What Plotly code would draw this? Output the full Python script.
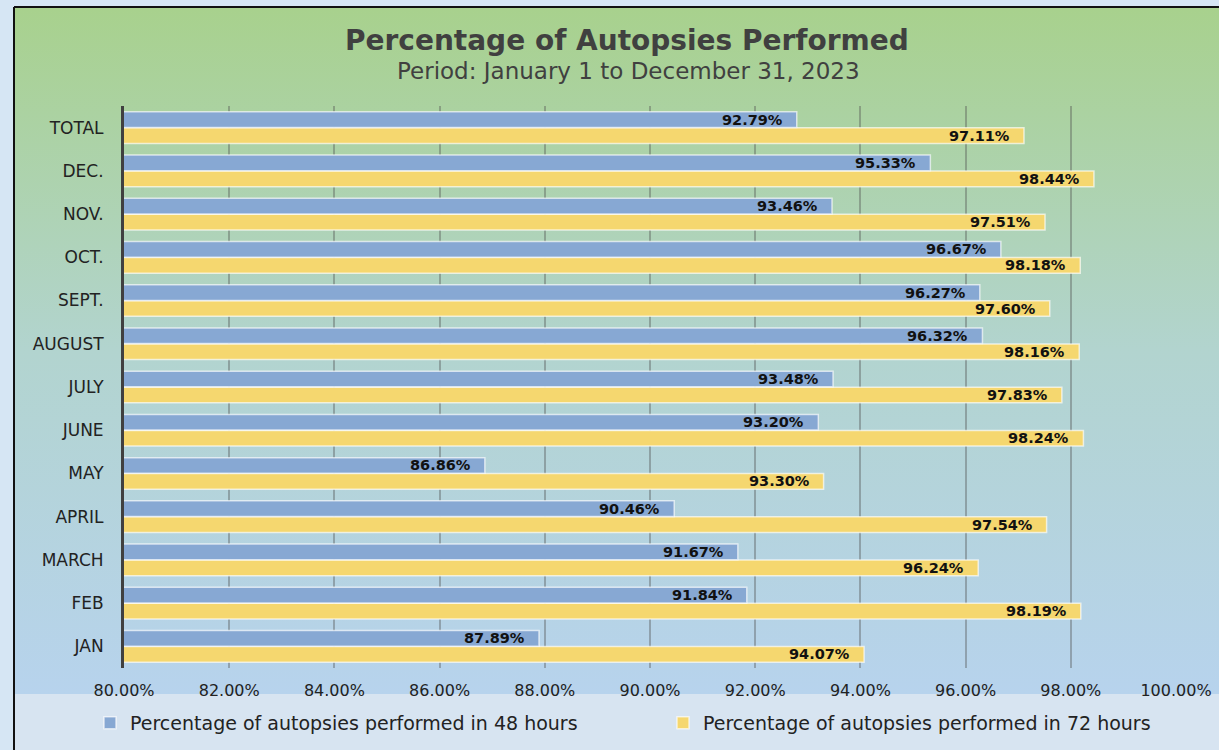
import base64
import plotly.graph_objects as go

categories = ["JAN", "FEB", "MARCH", "APRIL", "MAY", "JUNE", "JULY", "AUGUST",
              "SEPT.", "OCT.", "NOV.", "DEC.", "TOTAL"]
pct_48h = [87.89, 91.84, 91.67, 90.46, 86.86, 93.20, 93.48, 96.32,
           96.27, 96.67, 93.46, 95.33, 92.79]
pct_72h = [94.07, 98.19, 96.24, 97.54, 93.30, 98.24, 97.83, 98.16,
           97.60, 98.18, 97.51, 98.44, 97.11]
x_ticks = [80, 82, 84, 86, 88, 90, 92, 94, 96, 98, 100]

name_48 = "Percentage of autopsies performed in 48 hours"
name_72 = "Percentage of autopsies performed in 72 hours"
title = "Percentage of Autopsies Performed"
subtitle = "Period: January 1 to December 31, 2023"

W, H = 1219, 750
L, R, T, B = 124, 43, 106, 82
PW, PH = W - L - R, H - T - B

BLUE = "#87a8d3"
YELLOW = "#f5d76f"
FONT = "DejaVu Sans"

svg = f"""<svg xmlns="http://www.w3.org/2000/svg" width="{W}" height="{H}" viewBox="0 0 {W} {H}">
<defs><linearGradient id="g" x1="0" y1="0" x2="0" y2="1">
<stop offset="0" stop-color="#a8d18d"/>
<stop offset="0.5" stop-color="#b2d4cf"/>
<stop offset="1" stop-color="#b7d3ed"/>
</linearGradient></defs>
<rect x="0" y="0" width="{W}" height="{H}" fill="#d6e6f4"/>
<rect x="15" y="8" width="{W-15}" height="686" fill="url(#g)"/>
<rect x="15" y="694" width="{W-15}" height="{H-694}" fill="#d7e4f1"/>
<line x1="14" y1="7" x2="14" y2="{H}" stroke="#111" stroke-width="2"/>
<line x1="14" y1="7" x2="{W}" y2="7" stroke="#111" stroke-width="2"/>
</svg>"""
bg_src = "data:image/svg+xml;base64," + base64.b64encode(svg.encode()).decode()

fig = go.Figure()
fig.add_trace(go.Bar(
    y=categories, x=pct_72h, orientation="h", name=name_72,
    marker=dict(color=YELLOW, line=dict(color="rgba(255,255,255,0.65)", width=1.5)),
    legend="legend2",
))
fig.add_trace(go.Bar(
    y=categories, x=pct_48h, orientation="h", name=name_48,
    marker=dict(color=BLUE, line=dict(color="rgba(255,255,255,0.65)", width=1.5)),
    legend="legend",
))

label_font = dict(family=FONT, size=14.5, color="#111", weight="bold")
annotations = []
for c, v in zip(categories, pct_48h):
    annotations.append(dict(x=v, y=c, xref="x", yref="y", text=f"{v:.2f}%",
                            showarrow=False, xanchor="right", yanchor="middle",
                            xshift=-12, yshift=8, font=label_font))
for c, v in zip(categories, pct_72h):
    annotations.append(dict(x=v, y=c, xref="x", yref="y", text=f"{v:.2f}%",
                            showarrow=False, xanchor="right", yanchor="middle",
                            xshift=-12, yshift=-8, font=label_font))

annotations.append(dict(text=title, xref="paper", yref="paper",
                        x=(627 - L) / PW, y=1 + (T - 40) / PH, showarrow=False,
                        xanchor="center", yanchor="middle",
                        font=dict(family=FONT, size=28, color="#404040", weight="bold")))
annotations.append(dict(text=subtitle, xref="paper", yref="paper",
                        x=(628 - L) / PW, y=1 + (T - 71) / PH, showarrow=False,
                        xanchor="center", yanchor="middle",
                        font=dict(family=FONT, size=23, color="#404040")))

legend_common = dict(orientation="h", xref="container", yref="container",
                     y=1 - 723 / H, xanchor="left", yanchor="middle",
                     font=dict(family=FONT, size=19, color="#222"),
                     bgcolor="rgba(0,0,0,0)")

fig.update_layout(
    width=W, height=H,
    margin=dict(l=L, r=R, t=T, b=B, pad=0, autoexpand=False),
    paper_bgcolor="rgba(0,0,0,0)",
    plot_bgcolor="rgba(0,0,0,0)",
    barmode="group", bargap=0.26, bargroupgap=0.02,
    showlegend=True,
    legend=dict(x=90 / W, **legend_common),
    legend2=dict(x=663 / W, **legend_common),
    annotations=annotations,
    images=[dict(source=bg_src, xref="paper", yref="paper",
                 x=-L / PW, y=1 + T / PH, sizex=W / PW, sizey=H / PH,
                 xanchor="left", yanchor="top", sizing="stretch", layer="below")],
    xaxis=dict(range=[80, 100], tickvals=x_ticks,
               ticktext=[f"{t:.2f}%" for t in x_ticks],
               showgrid=True, gridcolor="rgba(80,80,80,0.38)", gridwidth=2,
               zeroline=False, showline=False, ticks="",
               ticklabelstandoff=11, automargin=False,
               tickfont=dict(family=FONT, size=16, color="#222"),
               fixedrange=True),
    yaxis=dict(categoryorder="array", categoryarray=categories,
               showline=True, linecolor="#404040", linewidth=3,
               showgrid=False, zeroline=False, ticks="",
               ticklabelstandoff=14, automargin=False,
               tickfont=dict(family=FONT, size=17, color="#222"),
               fixedrange=True),
)

fig.write_html("out.html", config={"displayModeBar": False},
               post_script="document.body.style.margin='0';document.body.style.overflow='hidden';")
